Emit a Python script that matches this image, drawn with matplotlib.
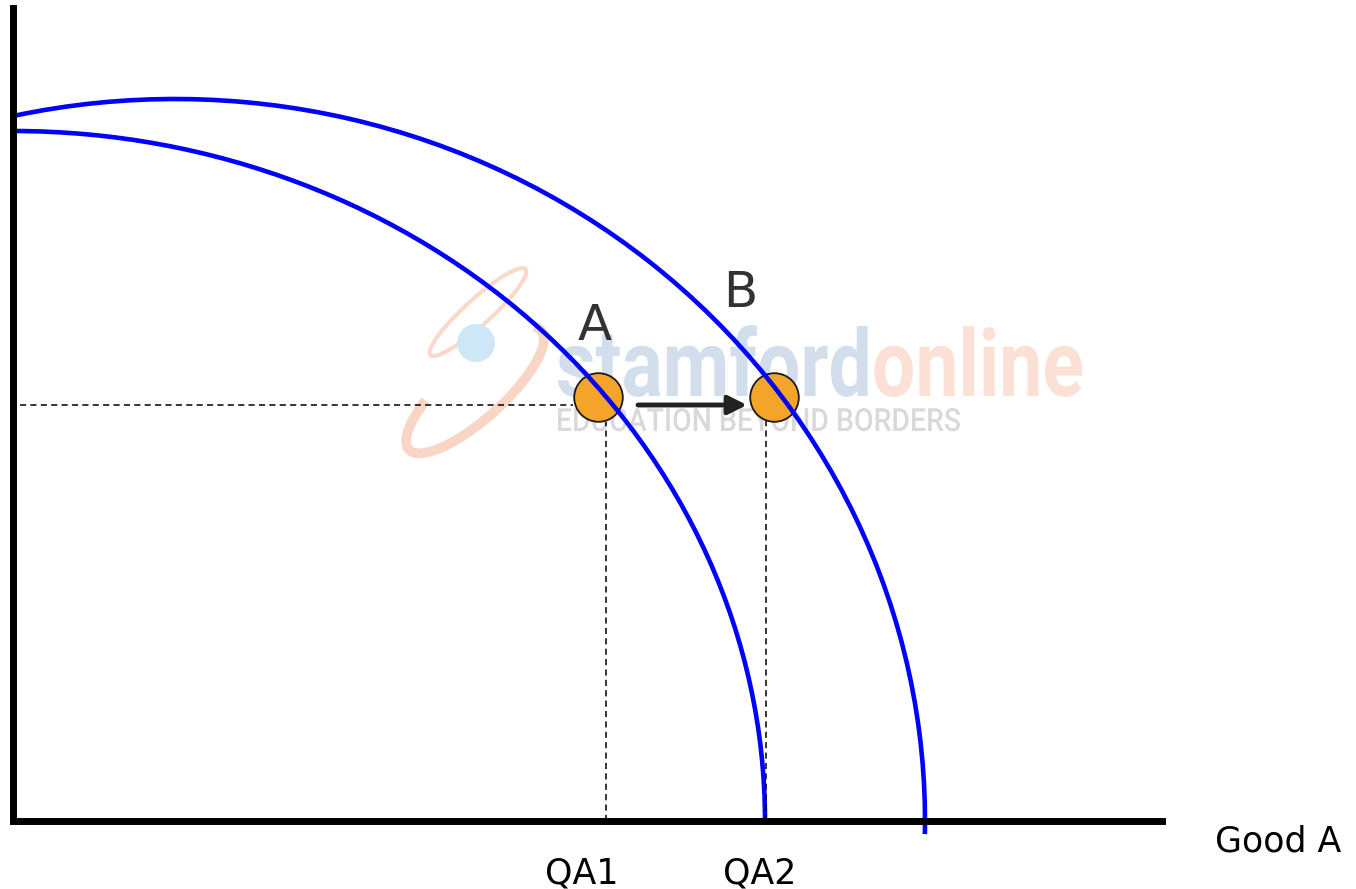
import matplotlib
matplotlib.use("Agg")
import matplotlib.pyplot as plt
from matplotlib.textpath import TextPath
from matplotlib.patches import PathPatch, Arc, Circle
from matplotlib.font_manager import FontProperties
from matplotlib.transforms import Affine2D

# ---------------- data (units = pixels from origin) ----
# PPF curves drawn as elliptical arcs: centre x (on the Good A axis), full
# width, full height, start / end angle in degrees
ppf_names = ["PPF1", "PPF2"]
ppf_center_x = [0, 162]
ppf_width = [1504, 1500]
ppf_height = [1380, 1444]
ppf_theta1 = [0, -1.0]
ppf_theta2 = [90, 102.9]

point_labels = ["A", "B"]
point_x = [584.5, 760.5]
point_y = [424, 424]
label_x = [582, 727]
label_y = [481, 514]

qty_labels = ["QA1", "QA2"]
qty_x = [593, 753]          # dashed guide positions
qty_label_x = [569, 747]
guide_y = 416
x_axis_label = "Good A"

# ---------------- figure ----------------
W, H = 1356, 889
fig = plt.figure(figsize=(W / 100, H / 100), dpi=100)
ax = fig.add_axes([13 / W, (H - 821) / H, 1149 / W, 813 / H])
ax.set_xlim(0, 1149)
ax.set_ylim(0, 813)
ax.set_xticks([])
ax.set_yticks([])
for s in ["top", "right"]:
    ax.spines[s].set_visible(False)
for s in ["left", "bottom"]:
    ax.spines[s].set_linewidth(5)
    ax.spines[s].set_color("black")
    ax.spines[s].set_capstyle("projecting")
    ax.spines[s].set_zorder(6)

# ---------------- watermark ----------------
def tpath(s, weight):
    fp = FontProperties(family="Roboto", weight=weight)
    return TextPath((0, 0), s, size=100, prop=fp)

p_all = tpath("stamfordonline", "bold")
e_all = p_all.get_extents()
sx = 524 / e_all.width
sy = 71 / e_all.y1
p1 = tpath("stamford", "bold")
p2 = tpath("online", "bold")
x_on = e_all.x1 - p2.get_extents().x1
tr1 = Affine2D().translate(-e_all.x0, 0).scale(sx, sy).translate(545, 425)
tr2 = Affine2D().translate(x_on - e_all.x0, 0).scale(sx, sy).translate(545, 425)
ax.add_patch(PathPatch(tr1.transform_path(p1), fc="#d3deed", ec="none", zorder=1))
ax.add_patch(PathPatch(tr2.transform_path(p2), fc="#fbe0d6", ec="none", zorder=1))

p3 = tpath("EDUCATION BEYOND BORDERS", "medium")
e3 = p3.get_extents()
tr3 = Affine2D().translate(-e3.x0, 0).scale(402 / e3.width, 23 / e3.y1).translate(545, 390)
ax.add_patch(PathPatch(tr3.transform_path(p3), fc="#d9d9d9", ec="none", zorder=1))

# swoosh of the logo
ax.add_patch(Arc((465, 509), 128, 26, angle=42, theta1=0, theta2=360,
                 ec="#fad9cc", lw=3, zorder=1))
ax.add_patch(Arc((462, 431), 178, 58, angle=42, theta1=150, theta2=365,
                 ec="#f9d5c6", lw=7, zorder=1))
ax.add_patch(Circle((463, 478), 19, fc="#cde7f7", ec="none", zorder=1))

# ---------------- guides ----------------
dash = (0, (4, 2.8))
ax.plot([7, 560], [guide_y, guide_y], ls=dash, lw=1.1, color="black", zorder=5)
ax.plot([qty_x[0], qty_x[0]], [0, 399], ls=dash, lw=1.1, color="black", zorder=5)
ax.plot([qty_x[1], qty_x[1]], [0, 400], ls=dash, lw=1.1, color="black", zorder=5)

# ---------------- curves ----------------
for cx, w, h, t1, t2 in zip(ppf_center_x, ppf_width, ppf_height,
                            ppf_theta1, ppf_theta2):
    ax.add_patch(Arc((cx, 0), w, h, angle=0, theta1=t1, theta2=t2,
                     ec="#0000ff", lw=3.3, zorder=4, clip_on=False))

# ---------------- points ----------------
ax.plot(point_x, point_y, "o", ms=35, mfc="#f5a42a", mec="#1a1a1a", mew=1.3,
        zorder=3, clip_on=False)
ax.annotate("", xy=(734, guide_y), xytext=(625, guide_y),
            arrowprops=dict(arrowstyle="-|>", color="#222222", lw=3.5,
                            mutation_scale=28, shrinkA=0, shrinkB=0),
            zorder=5)

for lab, x, y in zip(point_labels, label_x, label_y):
    ax.text(x, y, lab, fontsize=36, color="#333333", ha="center", va="baseline",
            zorder=6)

for lab, x in zip(qty_labels, qty_label_x):
    ax.text(x, -62, lab, fontsize=25, color="black", ha="center", va="baseline",
            clip_on=False)
ax.text(1202, -31, x_axis_label, fontsize=25, color="black", ha="left",
        va="baseline", clip_on=False)

fig.savefig("out.png", dpi=100)
